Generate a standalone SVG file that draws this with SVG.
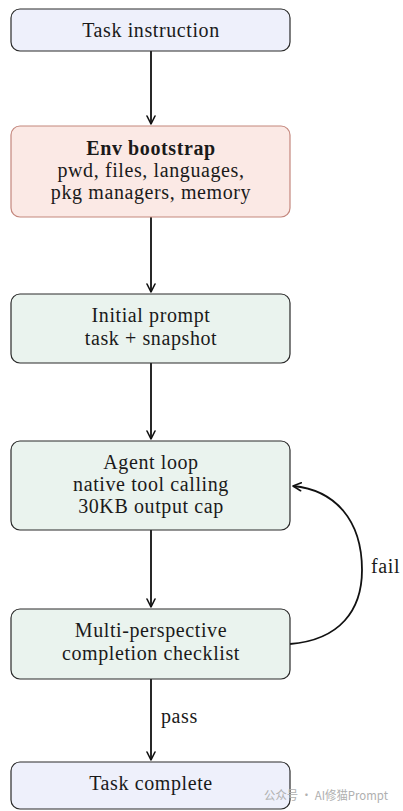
<svg xmlns="http://www.w3.org/2000/svg" width="403" height="811" viewBox="0 0 403 811">
<defs>
<marker id="ah" viewBox="0 0 10 10" refX="9" refY="5" markerWidth="10" markerHeight="10" markerUnits="userSpaceOnUse" orient="auto">
<path d="M1,1 L9,5 L1,9" fill="none" stroke="#111" stroke-width="1.6" stroke-linecap="round" stroke-linejoin="round"/>
</marker>
<style>
.box{stroke:#2a2a2a;stroke-width:1.2}
.blue{fill:#eef0fb}
.red{fill:#fbe9e5;stroke:#c4877d}
.green{fill:#eaf3ee}
text{font-family:"Liberation Serif","DejaVu Serif",serif;font-size:20px;letter-spacing:0.6px;fill:#1a1a1a;text-anchor:middle}
.b{font-weight:bold}
.lbl{text-anchor:start}
.wm{font-family:"Noto Sans CJK SC","Noto Sans",sans-serif;font-size:12px;letter-spacing:0;fill:#b0b0b0;text-anchor:start}
.c{fill:none;stroke:#111;stroke-width:1.8;marker-end:url(#ah)}
</style>
</defs>
<rect width="403" height="811" fill="#fff"/>
<g id="connectors">
<line class="c" x1="151" y1="51" x2="151" y2="124"/>
<line class="c" x1="151" y1="217" x2="151" y2="292"/>
<line class="c" x1="151" y1="363" x2="151" y2="439"/>
<line class="c" x1="151" y1="530" x2="151" y2="607"/>
<line class="c" x1="151" y1="679" x2="151" y2="760"/>
<path class="c" d="M290,644 C340,640 362,610 362,570 C362,520 335,490 293,486"/>
<text class="lbl" x="161" y="723">pass</text>
<text class="lbl" x="371" y="573">fail</text>
</g>
<g id="task-instruction">
<rect class="box blue" x="11" y="9" width="279" height="42" rx="9"/>
<text x="151" y="37">Task instruction</text>
</g>
<g id="env-bootstrap">
<rect class="box red" x="11" y="126" width="279" height="91" rx="9"/>
<text class="b" x="151" y="155">Env bootstrap</text>
<text x="151" y="177">pwd, files, languages,</text>
<text x="151" y="199">pkg managers, memory</text>
</g>
<g id="initial-prompt">
<rect class="box green" x="11" y="294" width="279" height="69" rx="9"/>
<text x="151" y="322">Initial prompt</text>
<text x="151" y="345">task + snapshot</text>
</g>
<g id="agent-loop">
<rect class="box green" x="11" y="441" width="279" height="89" rx="9"/>
<text x="151" y="469">Agent loop</text>
<text x="151" y="491">native tool calling</text>
<text x="151" y="513">30KB output cap</text>
</g>
<g id="checklist">
<rect class="box green" x="11" y="609" width="279" height="70" rx="9"/>
<text x="151" y="637">Multi-perspective</text>
<text x="151" y="660">completion checklist</text>
</g>
<g id="task-complete">
<rect class="box blue" x="11" y="762" width="279" height="47" rx="9"/>
<text x="151" y="790">Task complete</text>
</g>
<text class="wm" x="264" y="800" textLength="124" lengthAdjust="spacingAndGlyphs">公众号 · AI修猫Prompt</text>
</svg>
